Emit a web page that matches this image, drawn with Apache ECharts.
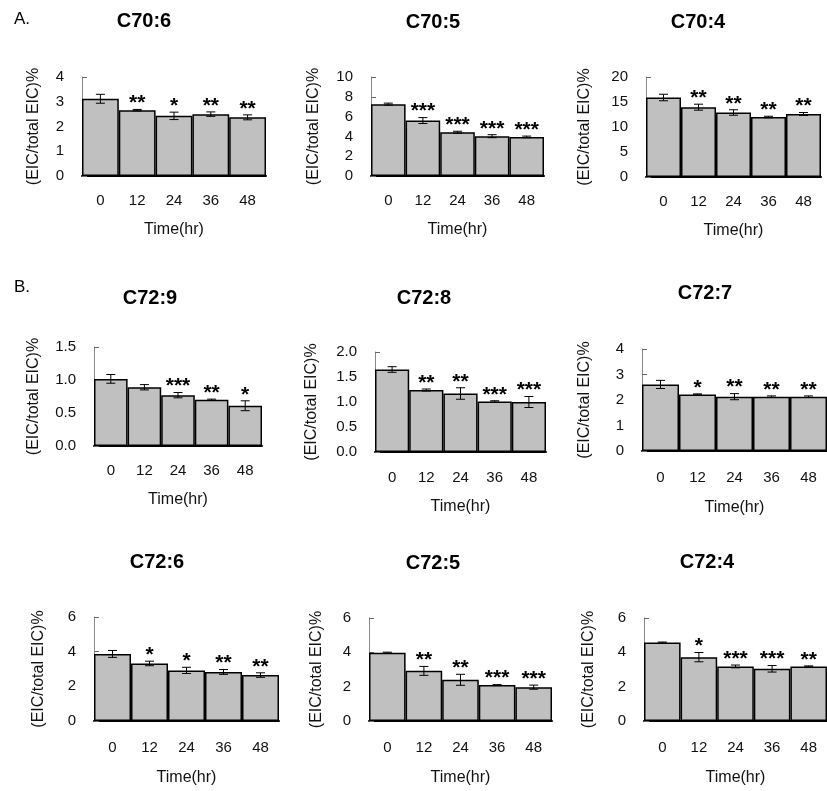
<!DOCTYPE html>
<html>
<head>
<meta charset="utf-8">
<script src="https://cdn.jsdelivr.net/npm/echarts@6/dist/echarts.min.js"></script>
<style>
html,body{margin:0;padding:0;background:#fff;}
#chart{width:827px;height:791px;}
</style>
</head>
<body>
<div id="chart"></div>
<script>
// ---------- data ----------
var categories = ['0', '12', '24', '36', '48'];
var panelTitles = ['C70:6', 'C70:5', 'C70:4', 'C72:9', 'C72:8', 'C72:7', 'C72:6', 'C72:5', 'C72:4'];
var sectionLabels = ['A.', 'B.'];
var yAxisTitle = '(EIC/total EIC)%';
var xAxisTitle = 'Time(hr)';

var c70_6_mean = [3.12, 2.66, 2.43, 2.50, 2.37];
var c70_6_err  = [0.18, 0.03, 0.15, 0.09, 0.10];
var c70_6_sig  = ['', '**', '*', '**', '**'];

var c70_5_mean = [7.26, 5.60, 4.42, 4.02, 3.95];
var c70_5_err  = [0.10, 0.30, 0.10, 0.15, 0.08];
var c70_5_sig  = ['', '***', '***', '***', '***'];

var c70_4_mean = [15.9, 13.96, 12.9, 12.0, 12.6];
var c70_4_err  = [0.65, 0.60, 0.55, 0.15, 0.30];
var c70_4_sig  = ['', '**', '**', '**', '**'];

var c72_9_mean = [1.017, 0.89, 0.77, 0.70, 0.61];
var c72_9_err  = [0.066, 0.04, 0.04, 0.01, 0.075];
var c72_9_sig  = ['', '', '***', '**', '*'];

var c72_8_mean = [1.65, 1.24, 1.17, 1.01, 1.00];
var c72_8_err  = [0.056, 0.02, 0.115, 0.015, 0.11];
var c72_8_sig  = ['', '**', '**', '***', '***'];

var c72_7_mean = [2.61, 2.22, 2.13, 2.13, 2.13];
var c72_7_err  = [0.16, 0.02, 0.12, 0.03, 0.03];
var c72_7_sig  = ['', '*', '**', '**', '**'];

var c72_6_mean = [3.87, 3.32, 2.92, 2.83, 2.65];
var c72_6_err  = [0.20, 0.13, 0.18, 0.14, 0.13];
var c72_6_sig  = ['', '*', '*', '**', '**'];

var c72_5_mean = [3.98, 2.92, 2.40, 2.09, 1.97];
var c72_5_err  = [0.03, 0.26, 0.32, 0.03, 0.12];
var c72_5_sig  = ['', '**', '**', '***', '***'];

var c72_4_mean = [4.57, 3.72, 3.18, 3.04, 3.18];
var c72_4_err  = [0.03, 0.27, 0.08, 0.19, 0.03];
var c72_4_sig  = ['', '*', '***', '***', '**'];

var yMax      = [4, 10, 20, 1.5, 2, 4, 6, 6, 6];
var yInterval = [1, 2, 5, 0.5, 0.5, 1, 2, 2, 2];
var yDecimals = [0, 0, 0, 1, 1, 0, 0, 0, 0];

// ---------- layout (positions / styles only) ----------
var means = [c70_6_mean, c70_5_mean, c70_4_mean, c72_9_mean, c72_8_mean, c72_7_mean, c72_6_mean, c72_5_mean, c72_4_mean];
var errs  = [c70_6_err, c70_5_err, c70_4_err, c72_9_err, c72_8_err, c72_7_err, c72_6_err, c72_5_err, c72_4_err];
var sigs  = [c70_6_sig, c70_5_sig, c70_4_sig, c72_9_sig, c72_8_sig, c72_7_sig, c72_6_sig, c72_5_sig, c72_4_sig];

var grids = [
  {left: 82,  top: 77,  width: 184, height: 99},
  {left: 371, top: 77,  width: 173, height: 99},
  {left: 646, top: 77,  width: 175, height: 100},
  {left: 94,  top: 347, width: 168, height: 99},
  {left: 375, top: 352, width: 171, height: 100},
  {left: 642, top: 349, width: 187, height: 102},
  {left: 94,  top: 617, width: 185, height: 104},
  {left: 369, top: 618, width: 183, height: 103},
  {left: 644, top: 618, width: 190, height: 103}
];
var yNameGap  = [40, 49, 53, 52, 55, 49, 47, 44, 47];
var xLabelGap = [17, 17, 17, 17, 18, 19, 19, 19, 19];
var xNameGap  = [46, 46, 46, 46, 47, 49, 49, 49, 49];
var titlePos  = [[144, 21], [433, 22], [698, 22], [150, 298], [424, 298], [705, 293], [157, 562], [433, 563], [707, 562]];
var sectionPos = [[22, 19], [22, 287]];

var FONT = "'Liberation Sans', Arial, sans-serif";
var TXT = '#111';

var option = {
  backgroundColor: '#fff',
  animation: false,
  grid: [], xAxis: [], yAxis: [], series: [], graphic: []
};

for (var i = 0; i < 9; i++) {
  var g = grids[i];
  option.grid.push({left: g.left, top: g.top, width: g.width, height: g.height, containLabel: false});
  option.xAxis.push({
    type: 'category', gridIndex: i, data: categories,
    axisLine: {lineStyle: {color: '#000', width: 2}},
    axisTick: {show: false},
    axisLabel: {color: TXT, fontSize: 15, fontFamily: FONT, margin: xLabelGap[i]},
    name: xAxisTitle, nameLocation: 'middle', nameGap: xNameGap[i],
    nameTextStyle: {color: TXT, fontSize: 16, fontFamily: FONT},
    splitLine: {show: false}
  });
  (function (dec) {
    option.yAxis.push({
      type: 'value', gridIndex: i, min: 0, max: yMax[i], interval: yInterval[i],
      axisLine: {show: true, lineStyle: {color: '#888', width: 1}},
      axisTick: {show: true, inside: true, length: 5, lineStyle: {color: '#666'}},
      axisLabel: {color: TXT, fontSize: 15, fontFamily: FONT, margin: 18,
        formatter: function (v) { return v.toFixed(dec); }},
      splitLine: {show: false},
      name: yAxisTitle, nameLocation: 'middle', nameRotate: 90, nameGap: yNameGap[i],
      nameTextStyle: {color: TXT, fontSize: 16, fontFamily: FONT}
    });
  })(yDecimals[i]);

  option.series.push({
    type: 'bar', xAxisIndex: i, yAxisIndex: i, data: means[i],
    barCategoryGap: '0%',
    itemStyle: {color: '#c0c0c0', borderColor: '#000', borderWidth: 1.5},
    z: 2
  });

  var edata = [];
  for (var k = 0; k < categories.length; k++) {
    edata.push([k, means[i][k], errs[i][k], sigs[i][k]]);
  }
  option.series.push({
    type: 'custom', xAxisIndex: i, yAxisIndex: i, data: edata, z: 5,
    renderItem: function (params, api) {
      var x = api.value(0), m = api.value(1), e = api.value(2);
      var s = api.value(3);
      var top = api.coord([x, m + e]);
      var bot = api.coord([x, m - e]);
      var hw = 4.5;
      var ls = {stroke: '#000', lineWidth: 1};
      var children = [
        {type: 'line', shape: {x1: top[0], y1: top[1], x2: bot[0], y2: bot[1]}, style: ls},
        {type: 'line', shape: {x1: top[0] - hw, y1: top[1], x2: top[0] + hw, y2: top[1]}, style: ls},
        {type: 'line', shape: {x1: bot[0] - hw, y1: bot[1], x2: bot[0] + hw, y2: bot[1]}, style: ls}
      ];
      if (s && s !== '' && s !== '-') {
        children.push({type: 'text', x: top[0], y: top[1] - 6,
          style: {text: s, fill: '#000', font: 'bold 21px ' + FONT,
            textAlign: 'center', textVerticalAlign: 'middle'}});
      }
      return {type: 'group', children: children};
    },
    dimensions: ['x', 'mean', 'err', 'sig'],
    encode: {x: 0, y: 1}
  });

  option.graphic.push({
    type: 'text', x: titlePos[i][0], y: titlePos[i][1],
    style: {text: panelTitles[i], fill: '#000', font: 'bold 20px ' + FONT,
      textAlign: 'center', textVerticalAlign: 'middle'}
  });
}
for (var j = 0; j < sectionLabels.length; j++) {
  option.graphic.push({
    type: 'text', x: sectionPos[j][0], y: sectionPos[j][1],
    style: {text: sectionLabels[j], fill: '#000', font: '17px ' + FONT,
      textAlign: 'center', textVerticalAlign: 'middle'}
  });
}

var chart = echarts.init(document.getElementById('chart'), null, {renderer: 'canvas'});
chart.setOption(option);
</script>
</body>
</html>
